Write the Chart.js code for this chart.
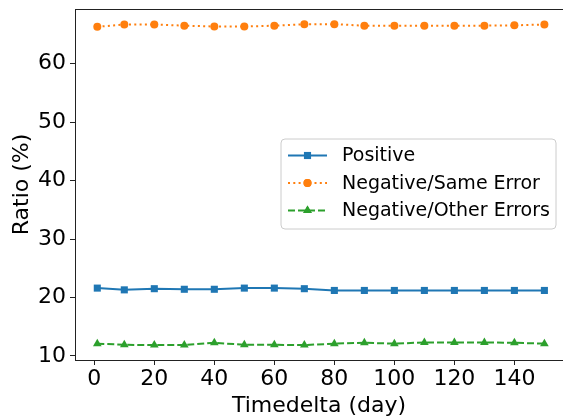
<!DOCTYPE html>
<html>
<head>
<meta charset="utf-8">
<script src="https://cdn.jsdelivr.net/npm/chart.js@4"></script>
<style>
  html,body{margin:0;padding:0;background:#fff;overflow:hidden}
  #wrap{width:563px;height:419px;position:relative}
</style>
</head>
<body>
<div id="wrap"><canvas id="c"></canvas></div>
<script>
// data
const days = [1,10,20,30,40,50,60,70,80,90,100,110,120,130,140,150];
const positive = [21.6,21.3,21.5,21.4,21.4,21.6,21.6,21.5,21.2,21.2,21.2,21.2,21.2,21.2,21.2,21.2];
const sameError = [66.3,66.7,66.7,66.5,66.35,66.35,66.5,66.75,66.75,66.5,66.5,66.5,66.5,66.5,66.55,66.7];
const otherErrors = [12.1,11.9,11.85,11.85,12.25,11.9,11.9,11.85,12.1,12.25,12.1,12.3,12.3,12.3,12.25,12.1];
const xTicks = [0,20,40,60,80,100,120,140];
const yTicks = [10,20,30,40,50,60];

const FONT = "'DejaVu Sans', sans-serif";
const pts = arr => arr.map((v,i)=>({x:days[i], y:v}));

const series = [
  {label:'Positive', data:pts(positive), color:'#1f77b4', dash:[], style:'rect', r:5},
  {label:'Negative/Same Error', data:pts(sameError), color:'#ff7f0e', dash:[2,3.3], style:'circle', r:4},
  {label:'Negative/Other Errors', data:pts(otherErrors), color:'#2ca02c', dash:[7,3], style:'triangle', r:5}
];

// legend box drawn inside the plot, like matplotlib's
const boxLegend = {
  id:'boxLegend',
  afterDraw(chart){
    const ctx = chart.ctx;
    const x0 = 281, y0 = 139, w = 275, h = 90;
    ctx.save();
    ctx.beginPath();
    ctx.roundRect(x0, y0, w, h, 4);
    ctx.fillStyle = 'rgba(255,255,255,0.8)';
    ctx.fill();
    ctx.strokeStyle = '#cccccc';
    ctx.lineWidth = 1;
    ctx.stroke();
    ctx.font = '19px ' + FONT;
    ctx.textBaseline = 'middle';
    series.forEach((s,i)=>{
      const yy = y0 + 16.5 + i*27.5;
      ctx.strokeStyle = s.color;
      ctx.lineWidth = 2;
      ctx.setLineDash(s.dash);
      ctx.beginPath(); ctx.moveTo(288, yy); ctx.lineTo(327, yy); ctx.stroke();
      ctx.setLineDash([]);
      ctx.fillStyle = s.color;
      Chart.helpers.drawPoint(ctx, {pointStyle:s.style, radius:s.r, rotation:0, borderWidth:0}, 307.5, yy);
      ctx.fill();
      ctx.fillStyle = '#000';
      ctx.fillText(s.label, 342, yy + 1);
    });
    ctx.restore();
  }
};

// top spine
const topSpine = {
  id:'topSpine',
  afterDraw(chart){
    const a = chart.chartArea, ctx = chart.ctx;
    ctx.save();
    ctx.strokeStyle = '#222';
    ctx.lineWidth = 1;
    ctx.beginPath(); ctx.moveTo(a.left, a.top + 0.5); ctx.lineTo(a.right, a.top + 0.5); ctx.stroke();
    ctx.restore();
  }
};

new Chart(document.getElementById('c'), {
  type:'line',
  data:{
    datasets: series.map(s=>({
      label:s.label,
      data:s.data,
      borderColor:s.color,
      backgroundColor:s.color,
      borderWidth:2,
      borderDash:s.dash,
      pointStyle:s.style,
      pointRadius:s.r,
      pointBorderWidth:0,
      pointBackgroundColor:s.color,
      tension:0,
      fill:false
    }))
  },
  options:{
    responsive:true,
    maintainAspectRatio:false,
    animation:false,
    layout:{autoPadding:false, padding:{top:9,right:0,left:0,bottom:0}},
    plugins:{legend:{display:false}, tooltip:{enabled:false}},
    scales:{
      x:{
        type:'linear', min:-6.43, max:156.2,
        afterBuildTicks: ax => { ax.ticks = xTicks.map(v=>({value:v})); },
        afterFit: ax => { ax.height = 59; ax.paddingLeft = 0; ax.paddingRight = 0; },
        grid:{drawOnChartArea:false, tickLength:5, color:'#222'},
        border:{color:'#222', width:1},
        ticks:{color:'#000', font:{family:FONT, size:22}, padding:1, maxRotation:0},
        title:{display:true, text:'Timedelta (day)', color:'#000', font:{family:FONT, size:22}, padding:{top:0,bottom:0}}
      },
      y:{
        min:9.3, max:69.35,
        afterBuildTicks: ax => { ax.ticks = yTicks.map(v=>({value:v})); },
        afterFit: ax => { ax.width = 75; ax.paddingTop = 0; ax.paddingBottom = 0; },
        grid:{drawOnChartArea:false, tickLength:5, color:'#222'},
        border:{color:'#222', width:1},
        ticks:{color:'#000', font:{family:FONT, size:22}, padding:4},
        title:{display:true, text:'Ratio (%)', color:'#000', font:{family:FONT, size:22}, padding:{top:9,bottom:0}}
      }
    }
  },
  plugins:[boxLegend, topSpine]
});
</script>
</body>
</html>
